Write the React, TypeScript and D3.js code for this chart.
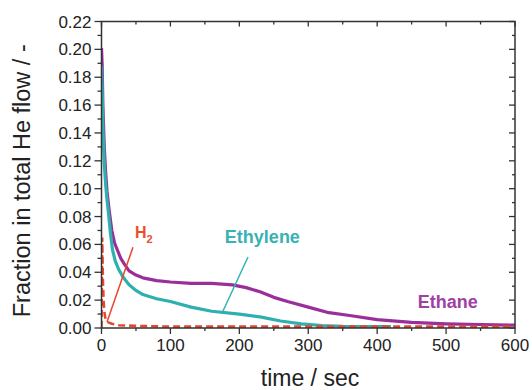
import React from "react";
import * as d3 from "d3";

const ethaneT = [0, 1, 2, 4, 6, 8, 11, 15, 19, 23, 28, 33, 40, 50, 60, 80, 100, 130, 160, 190, 210, 230, 250, 270, 300, 330, 360, 400, 450, 500, 550, 600];
const ethaneV = [0.201, 0.188, 0.16, 0.13, 0.112, 0.098, 0.085, 0.07, 0.061, 0.056, 0.05, 0.046, 0.041, 0.038, 0.036, 0.034, 0.033, 0.032, 0.032, 0.031, 0.029, 0.026, 0.022, 0.019, 0.015, 0.011, 0.009, 0.006, 0.004, 0.003, 0.0025, 0.002];

const ethyleneT = [0, 1, 2, 4, 6, 8, 10, 13, 16, 20, 25, 32, 40, 50, 60, 80, 100, 130, 160, 200, 230, 260, 290, 320, 350, 380, 420];
const ethyleneV = [0.188, 0.17, 0.145, 0.118, 0.103, 0.092, 0.083, 0.068, 0.056, 0.048, 0.042, 0.036, 0.031, 0.027, 0.024, 0.021, 0.019, 0.015, 0.012, 0.01, 0.008, 0.005, 0.003, 0.0018, 0.0012, 0.001, 0.001];

const h2T = [0, 1, 2, 3, 4, 6, 10, 15, 25, 50, 100, 200, 300, 400, 500, 600];
const h2V = [0, 0.065, 0.035, 0.02, 0.012, 0.006, 0.004, 0.003, 0.002, 0.0015, 0.001, 0.001, 0.001, 0.001, 0.001, 0.001];

const xTicks = [0, 100, 200, 300, 400, 500, 600];
const yTicks = [0, 0.02, 0.04, 0.06, 0.08, 0.1, 0.12, 0.14, 0.16, 0.18, 0.2, 0.22];

const W = 532, H = 390;
const L = 101.5, R = 515, T = 21.5, B = 328;

export default function App() {
  const x = d3.scaleLinear().domain([0, 600]).range([L, R]);
  const y = d3.scaleLinear().domain([0, 0.22]).range([B, T]);
  const line = d3.line<[number, number]>().x(d => x(d[0])).y(d => y(d[1]));
  const eth = line(ethaneT.map((t, i) => [t, ethaneV[i]]))!;
  const ethy = line(ethyleneT.map((t, i) => [t, ethyleneV[i]]))!;
  const h2 = line(h2T.map((t, i) => [t, h2V[i]]))!;
  const axisCol = "#333";
  const minorX = d3.range(0, 601, 50);
  const minorY = d3.range(0, 23).map(i => i * 0.01);
  const font = "Liberation Sans, Arial, sans-serif";
  return (
    <svg width={W} height={H} style={{ position: "absolute", left: 0, top: 0, background: "#fff" }}>
      <defs>
        <clipPath id="clip"><rect x={L} y={T} width={R - L} height={B - T} /></clipPath>
      </defs>
      <g clipPath="url(#clip)">
        <path d={eth} fill="none" stroke="#9a2f9c" strokeWidth={3.2} strokeLinejoin="round" />
        <path d={ethy} fill="none" stroke="#2fb0b0" strokeWidth={3.2} strokeLinejoin="round" />
        <path d={h2} fill="none" stroke="#e8452c" strokeWidth={2.6} strokeDasharray="7 4" />
      </g>
      <rect x={L} y={T} width={R - L} height={B - T} fill="none" stroke={axisCol} strokeWidth={1.5} />
      {minorX.map(v => {
        const major = v % 100 === 0;
        return (
          <g key={"x" + v}>
            <line x1={x(v)} x2={x(v)} y1={B} y2={B + (major ? 6 : 3)} stroke={axisCol} strokeWidth={1.3} />
            <line x1={x(v)} x2={x(v)} y1={T} y2={T + (major ? 5 : 3)} stroke={axisCol} strokeWidth={1.3} />
          </g>
        );
      })}
      {xTicks.map(v => (
        <text key={"xl" + v} x={x(v)} y={B + 23} textAnchor="middle" fontFamily={font} fontSize={17} fill="#222">{v}</text>
      ))}
      {minorY.map((v, i) => {
        const major = i % 2 === 0;
        return (
          <g key={"y" + i}>
            <line x1={L} x2={L - (major ? 7 : 4)} y1={y(v)} y2={y(v)} stroke={axisCol} strokeWidth={1.3} />
            <line x1={R} x2={R - (major ? 6 : 3)} y1={y(v)} y2={y(v)} stroke={axisCol} strokeWidth={1.3} />
          </g>
        );
      })}
      {yTicks.map(v => (
        <text key={"yl" + v} x={L - 10} y={y(v) + 6} textAnchor="end" fontFamily={font} fontSize={17} fill="#222">{v.toFixed(2)}</text>
      ))}
      <text x={310} y={386} textAnchor="middle" fontFamily={font} fontSize={23} fill="#222">time / sec</text>
      <text transform={`translate(30,${(T + B) / 2 + 6}) rotate(-90)`} textAnchor="middle" fontFamily={font} fontSize={23.5} fill="#222">Fraction in total He flow / -</text>
      <line x1={x(45.7)} y1={y(0.058)} x2={x(8)} y2={y(0.0043)} stroke="#e8452c" strokeWidth={1.5} />
      <text x={x(48.6)} y={y(0.0647)} fontFamily={font} fontSize={16} fontWeight="bold" fill="#e8502e">H<tspan fontSize={11} dy={5}>2</tspan></text>
      <line x1={x(212.6)} y1={y(0.051)} x2={x(176)} y2={y(0.0118)} stroke="#35b3b3" strokeWidth={1.5} />
      <text x={x(179)} y={y(0.061)} fontFamily={font} fontSize={18} fontWeight="bold" fill="#38b2b2">Ethylene</text>
      <text x={x(459)} y={y(0.0144)} fontFamily={font} fontSize={18} fontWeight="bold" fill="#a040a2">Ethane</text>
    </svg>
  );
}
